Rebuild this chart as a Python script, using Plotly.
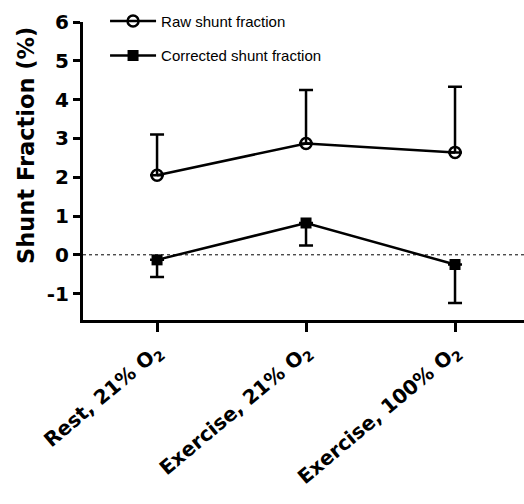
import plotly.graph_objects as go

# Conditions on the x axis
categories = ["Rest, 21% O<sub>2</sub>", "Exercise, 21% O<sub>2</sub>", "Exercise, 100% O<sub>2</sub>"]
x_pos = [0, 1, 2]

# Shunt fraction means (%) and one-sided SD
raw_mean = [2.05, 2.87, 2.64]
raw_sd = [1.05, 1.38, 1.69]
corrected_mean = [-0.13, 0.82, -0.25]
corrected_sd = [0.44, 0.58, 0.99]

y_ticks = [-1, 0, 1, 2, 3, 4, 5, 6]
y_title = "Shunt Fraction (%)"

black = "#000000"
bold_family = "DejaVu Sans, Liberation Sans, Arial, sans-serif"
legend_family = "Liberation Sans, Arial, sans-serif"

fig = go.Figure()

fig.add_trace(go.Scatter(
    x=x_pos, y=raw_mean, name="Raw shunt fraction", mode="lines+markers",
    line=dict(color=black, width=2.5),
    marker=dict(symbol="circle-open", size=11, color=black, line=dict(width=2.5)),
    error_y=dict(type="data", symmetric=False, array=raw_sd,
                 arrayminus=[0] * len(raw_sd), color=black, thickness=2.5, width=7),
    legendgroup="raw",
))

fig.add_trace(go.Scatter(
    x=x_pos, y=corrected_mean, name="Corrected shunt fraction", mode="lines+markers",
    line=dict(color=black, width=2.5),
    marker=dict(symbol="square", size=11, color=black),
    error_y=dict(type="data", symmetric=False, array=[0] * len(corrected_sd),
                 arrayminus=corrected_sd, color=black, thickness=2.5, width=7),
    legendgroup="corr",
))

# Dotted reference line at zero
fig.add_shape(type="line", xref="paper", x0=0, x1=1, yref="y", y0=0, y1=0,
              line=dict(color=black, width=1, dash="dot"), layer="below")

# Y-axis title placed as a rotated annotation, sitting a little above centre
fig.add_annotation(text="<b>" + y_title + "</b>", textangle=-90,
                   xref="paper", yref="paper", x=-0.131, y=0.585,
                   xanchor="center", yanchor="middle", showarrow=False,
                   font=dict(size=22.5, family=bold_family, color=black))

fig.update_layout(
    width=524, height=504,
    margin=dict(l=83, r=0, t=22, b=184),
    paper_bgcolor="white", plot_bgcolor="white",
    font=dict(family=bold_family, color=black),
    showlegend=True,
    legend=dict(x=0.05, y=1.058, xanchor="left", yanchor="top",
                font=dict(size=15, family=legend_family),
                bgcolor="rgba(0,0,0,0)", tracegroupgap=12, itemwidth=46),
)

fig.update_xaxes(
    range=[-0.497, 2.463], tickmode="array", tickvals=x_pos,
    ticktext=["<b>" + c + "</b>" for c in categories],
    tickangle=-40, tickfont=dict(size=20, family=bold_family),
    showline=True, linecolor=black, linewidth=3,
    ticks="outside", ticklen=9, tickwidth=3, tickcolor=black,
    showgrid=False, zeroline=False,
)

fig.update_yaxes(
    range=[-1.68, 6], tickmode="array", tickvals=y_ticks,
    ticktext=["<b>" + str(t) + "</b>" for t in y_ticks],
    tickfont=dict(size=20, family=bold_family),
    showline=True, linecolor=black, linewidth=3,
    ticks="outside", ticklen=7, tickwidth=3, tickcolor=black,
    showgrid=False, zeroline=False,
)

fig.write_html("out.html")
